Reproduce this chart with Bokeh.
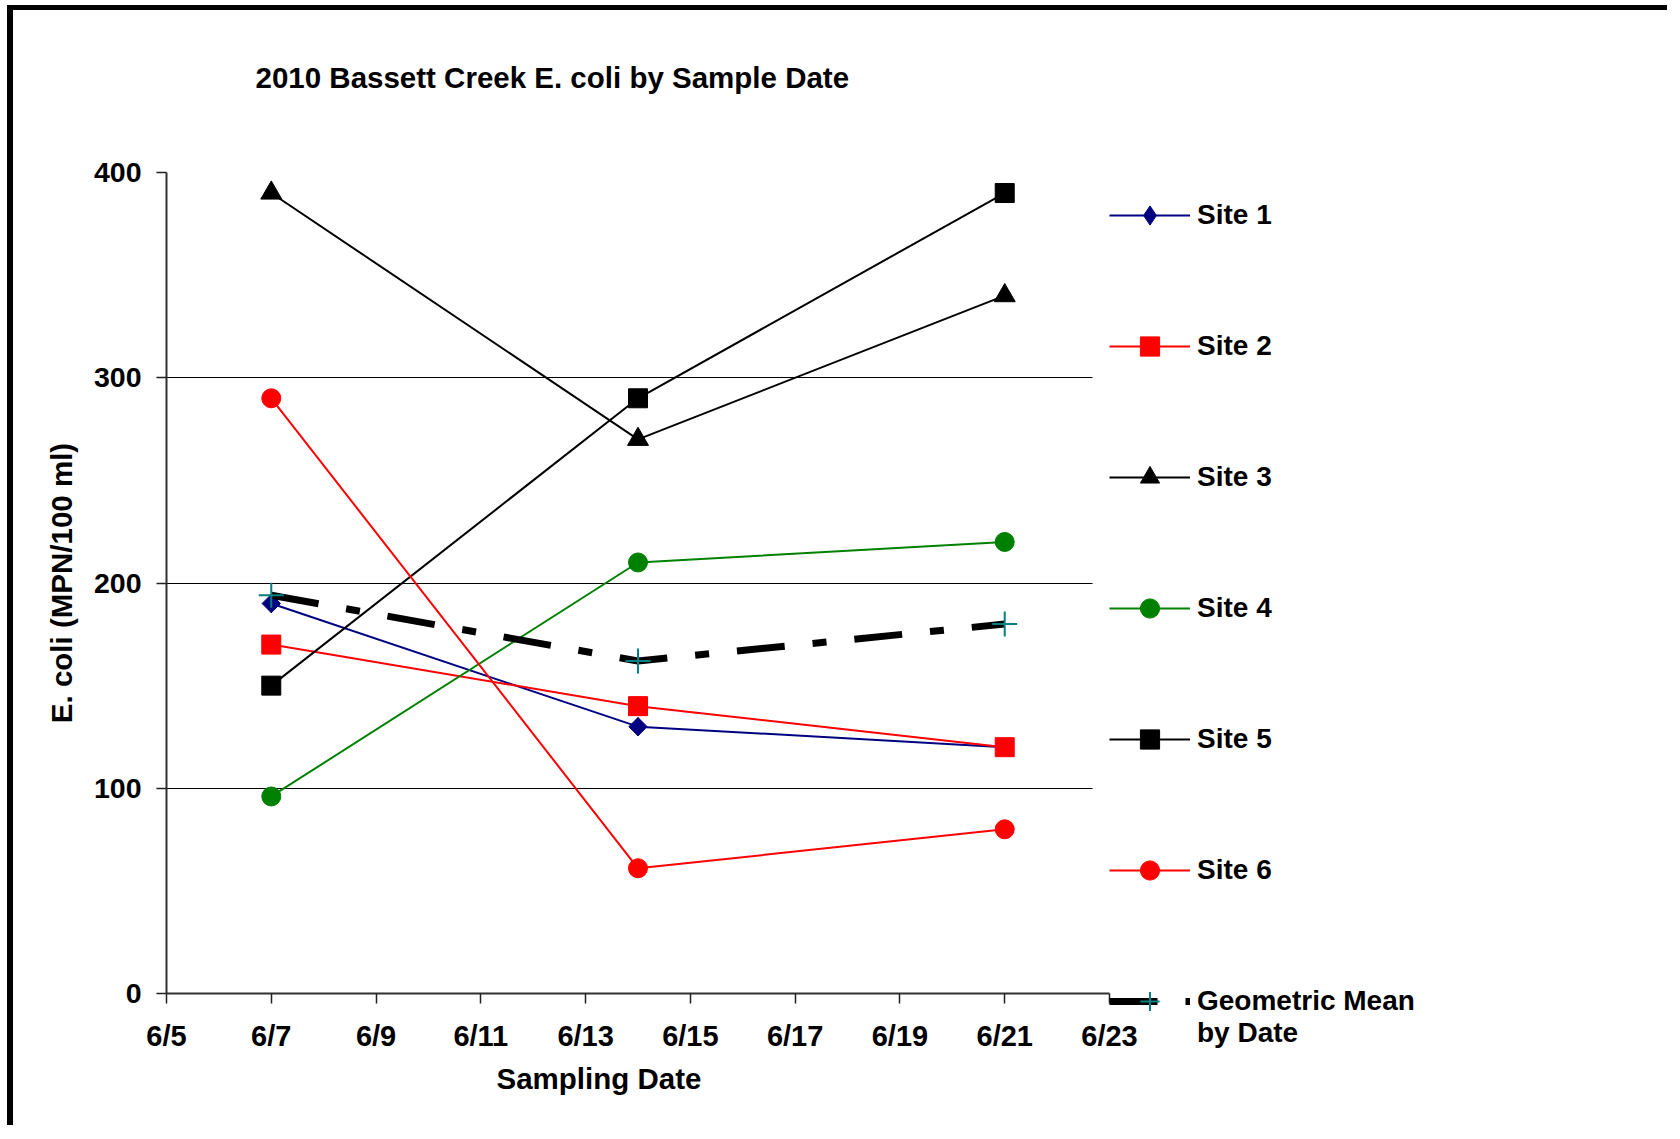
import numpy as np
import pandas as pd
from bokeh.plotting import figure
from bokeh.models import (Range1d, DaysTicker, DatetimeTickFormatter, FixedTicker,
                          Legend, LegendItem, Title, Grid)
from bokeh.embed import file_html
from bokeh.resources import INLINE

# ---------------- data ----------------
sample_dates = ["2010-06-07", "2010-06-14", "2010-06-21"]
site1 = [190, 130, 120]
site2 = [170, 140, 120]
site3 = [390, 270, 340]
site4 = [96, 210, 220]
site5 = [150, 290, 390]
site6 = [290, 61, 80]
geo_mean = [194, 162, 180]

x_start = "2010-06-05"
x_end = "2010-06-23"
grid_end = "2010-06-22 16:00"
x_tick_days = [5, 7, 9, 11, 13, 15, 17, 19, 21, 23]
y_ticks = [0, 100, 200, 300, 400]
y_grid_ticks = [100, 200, 300]
y_top_tick = [400]

title_text = "2010 Bassett Creek E. coli by Sample Date\n"
x_title = "Sampling Date"
y_title = "E. coli (MPN/100 ml)"
geo_label = "\nGeometric Mean\nby Date"

FONT = "Liberation Sans"
x = pd.to_datetime(sample_dates)


def ms(s):
    return pd.Timestamp(s).value / 1e6


p = figure(width=1660, height=1120, x_axis_type="datetime",
           x_range=Range1d(pd.Timestamp(x_start), pd.Timestamp(x_end)),
           y_range=Range1d(0, 400),
           output_backend="svg", toolbar_location=None,
           min_border_left=153, min_border_right=564,
           min_border_top=162, min_border_bottom=137,
           styles={"margin-left": "7px", "margin-top": "5px",
                   "border-top": "5px solid black", "border-left": "6px solid black"})
p.outline_line_color = None
p.background_fill_color = "white"
p.border_fill_color = "white"

# title
p.title.text = title_text
p.title.text_font = FONT
p.title.text_font_size = "29.5px"
p.title.text_font_style = "bold"
p.title.text_color = "black"
p.title.text_line_height = 1.1
p.title.align = "left"
p.title.offset = 89
p.title.standoff = 85

# axes
p.xaxis.ticker = DaysTicker(days=x_tick_days)
p.xaxis.formatter = DatetimeTickFormatter(days="%-m/%-d", months="%-m/%-d")
p.yaxis.ticker = FixedTicker(ticks=y_ticks)
for ax in (p.xaxis, p.yaxis):
    ax.axis_line_color = "#303030"
    ax.axis_line_width = 2
    ax.major_tick_line_color = "#202020"
    ax.major_tick_line_width = 1.5
    ax.major_tick_out = 10
    ax.major_tick_in = 0
    ax.minor_tick_line_color = None
    ax.major_label_text_font = FONT
    ax.major_label_text_font_style = "bold"
    ax.major_label_text_color = "black"
p.xaxis.major_label_text_font_size = "29px"
p.yaxis.major_label_text_font_size = "28.5px"
p.xaxis.major_label_standoff = 16
p.yaxis.major_label_standoff = 15

p.yaxis.axis_label = y_title
p.yaxis.axis_label_text_font = FONT
p.yaxis.axis_label_text_font_size = "29.5px"
p.yaxis.axis_label_text_font_style = "bold"
p.yaxis.axis_label_text_color = "black"
p.yaxis.axis_label_standoff = 13

p.add_layout(Title(text=x_title, align="left", offset=330, standoff=10,
                   text_font=FONT, text_font_size="29.5px", text_font_style="bold",
                   text_color="black"), "below")

# grid lines
grid_span = (ms(x_start), ms(grid_end))
p.xgrid.visible = False
p.ygrid.ticker = FixedTicker(ticks=y_grid_ticks)
p.ygrid.grid_line_color = "black"
p.ygrid.grid_line_width = 1
p.ygrid.cross_bounds = grid_span
top_grid = Grid(dimension=1, ticker=FixedTicker(ticks=y_top_tick),
                grid_line_color="#8a8a8a", grid_line_width=2.5,
                cross_bounds=grid_span)
p.add_layout(top_grid)

# series: (label, values, colour, plot markers, legend marker index)
series = [
    ("Site 1", site1, "#000080",
     [dict(marker="diamond", size=18), dict(marker="square", angle=np.pi / 4, size=13)], 0),
    ("Site 2", site2, "#ff0000", [dict(marker="square", size=19)], 0),
    ("Site 3", site3, "#000000", [dict(marker="triangle", size=21)], 0),
    ("Site 4", site4, "#008000", [dict(marker="circle", size=19)], 0),
    ("Site 5", site5, "#000000", [dict(marker="square", size=19)], 0),
    ("Site 6", site6, "#ff0000", [dict(marker="circle", size=19)], 0),
]
items = []
for name, vals, col, markers, li in series:
    rl = p.line(x, vals, line_color=col, line_width=2)
    rms = [p.scatter(x, vals, fill_color=col, line_color=col, line_width=1, **mk)
           for mk in markers]
    items.append(LegendItem(label=name, renderers=[rl, rms[li]]))

gl = p.line(x, geo_mean, line_color="black", line_width=7, line_dash="48 28 14 28")
gm = p.scatter(x, geo_mean, marker="cross", size=25, line_color="#008080", line_width=2)
items.append(LegendItem(label=geo_label, renderers=[gl, gm]))

legend = Legend(items=items, location=(0, -63), orientation="vertical",
                glyph_width=81, glyph_height=48, label_height=110,
                label_standoff=7, spacing=21, padding=0, margin=-81,
                border_line_color=None, background_fill_alpha=0,
                label_text_font=FONT, label_text_font_size="28px",
                label_text_font_style="bold", label_text_color="black",
                label_text_line_height=1.1)
p.add_layout(legend, "right")

open("out.html", "w").write(file_html(p, INLINE))
